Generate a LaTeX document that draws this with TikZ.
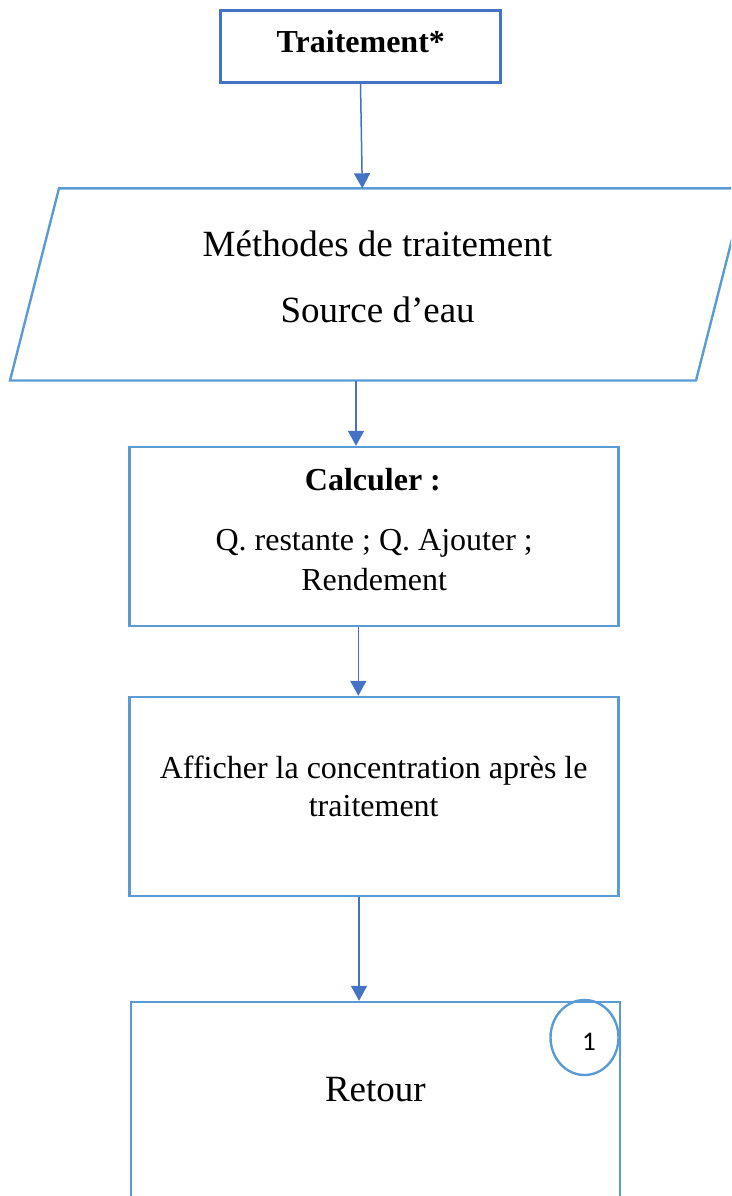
\documentclass[tikz,border=0pt]{standalone}
\usepackage{fontspec}
\setmainfont{Liberation Serif}
\newfontfamily\calibrifont{Carlito}
\usetikzlibrary{arrows.meta,shapes.geometric}

\definecolor{darkblue}{RGB}{68,114,196}
\definecolor{lightblue}{RGB}{91,155,213}

\tikzset{
  box/.style={draw=lightblue, line width=2.4pt, rectangle, inner sep=0pt},
  headbox/.style={draw=darkblue, line width=3pt, rectangle, inner sep=0pt},
  iobox/.style={draw=lightblue, line width=2.4pt, line join=miter},
  flow/.style={draw=darkblue, line width=1.5pt,
    -{Triangle[length=15pt,width=16pt]}},
  txt/.style={anchor=base, inner sep=0pt, text=black},
  bodyfont/.style={font=\fontsize{32}{40}\selectfont},
  bigfont/.style={font=\fontsize{37}{44}\selectfont},
}

\begin{document}
\begin{tikzpicture}[x=1pt, y=-1pt]
  \useasboundingbox (0,0) rectangle (731,1196);
  \clip (0,0) rectangle (731,1196);

  % header box
  \node[headbox, minimum width=280pt, minimum height=72pt] (trait) at (360.5,46.5) {};
  \node[txt, font=\fontsize{32}{40}\selectfont\bfseries] (traitT) at (360.8,52.7) {Traitement*};

  % input/output parallelogram
  \draw[iobox] (59,188.3) -- (745,188.3) -- (696,380.5) -- (10,380.5) -- cycle;
  \coordinate (ioTop) at (362.3,188.3);
  \coordinate (ioBot) at (356,380.5);
  \node[txt, bigfont] (ioA) at (377.4,256) {Méthodes de traitement};
  \node[txt, bigfont] (ioB) at (377.6,322.7) {Source d’eau};

  % computation box
  \node[box, minimum width=489pt, minimum height=179pt] (calc) at (374,536.5) {};
  \node[txt, font=\fontsize{32}{40}\selectfont\bfseries] (calcA) at (372.9,490.7) {Calculer :};
  \node[txt, bodyfont] (calcB) at (374.2,550) {Q. restante ; Q. Ajouter ;};
  \node[txt, bodyfont] (calcC) at (374.2,590.7) {Rendement};

  % display box
  \node[box, minimum width=489pt, minimum height=199pt] (aff) at (374,796.5) {};
  \node[txt, bodyfont] (affA) at (373.7,778) {Afficher la concentration après le};
  \node[txt, bodyfont] (affB) at (373.7,816.7) {traitement};

  % return box (runs past the lower edge)
  \node[box, minimum width=489pt, minimum height=236pt] (ret) at (375.5,1120) {};
  \node[txt, bigfont] (retT) at (375.4,1101.7) {Retour};

  % page connector
  \node[ellipse, draw=lightblue, line width=2.4pt, minimum width=68pt, minimum height=75pt,
        inner sep=0pt] (conn) at (584.5,1037.5) {};
  \node[txt, font=\fontsize{27}{32}\selectfont\calibrifont] (connT) at (589,1050) {1};

  % connectors
  \draw[flow] (trait.south) -- (ioTop);
  \draw[flow] (ioBot) -- ([xshift=-18pt]calc.north);
  \draw[flow] ([xshift=-15.7pt]calc.south) -- ([xshift=-15.7pt]aff.north);
  \draw[flow] ([xshift=-15pt]aff.south) -- ([xshift=-16.5pt]ret.north);
\end{tikzpicture}
\end{document}
